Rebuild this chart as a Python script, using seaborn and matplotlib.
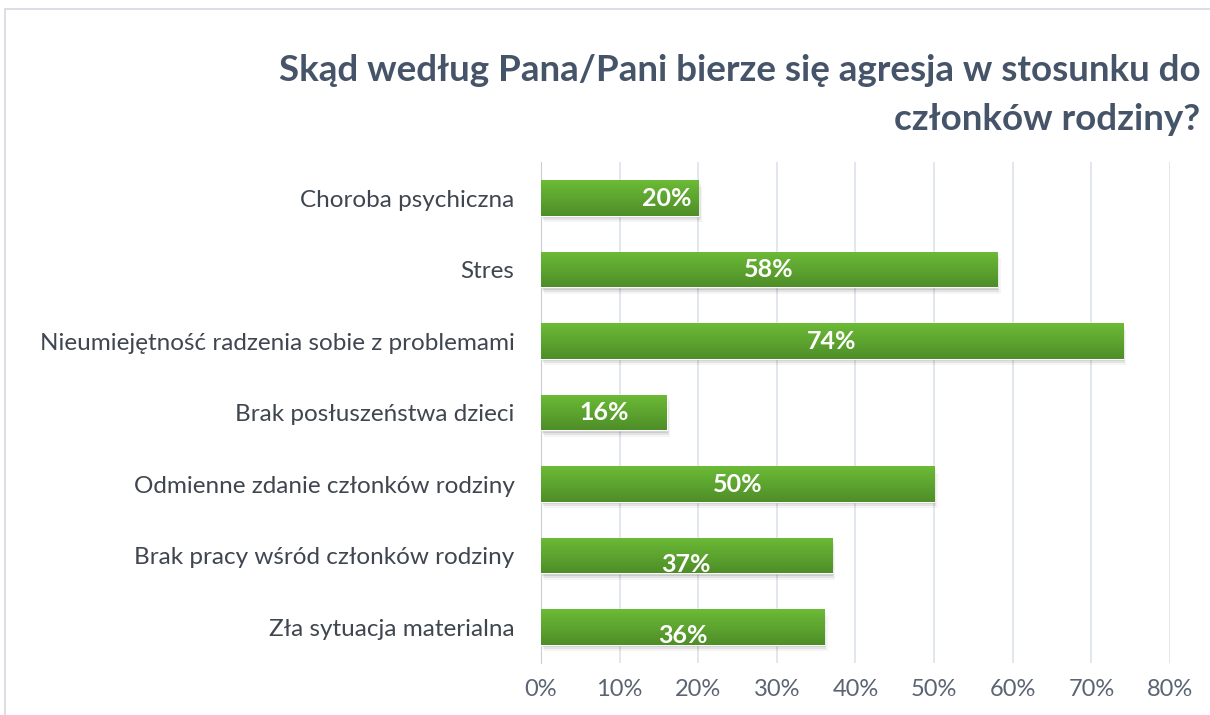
import numpy as np
import pandas as pd
import seaborn as sns
import matplotlib.pyplot as plt
from matplotlib.colors import LinearSegmentedColormap
from matplotlib.patches import Rectangle

categories = [
    'Choroba psychiczna',
    'Stres',
    'Nieumiejętność radzenia sobie z problemami',
    'Brak posłuszeństwa dzieci',
    'Odmienne zdanie członków rodziny',
    'Brak pracy wśród członków rodziny',
    'Zła sytuacja materialna',
]
values = [20, 58, 74, 16, 50, 37, 36]
labels = ['20%', '58%', '74%', '16%', '50%', '37%', '36%']
xticks = [0, 10, 20, 30, 40, 50, 60, 70, 80]

data = pd.DataFrame({'cat': categories, 'val': values})

sns.set_style('white')
plt.rcParams['font.family'] = ['Lato', 'DejaVu Sans']

fig = plt.figure(figsize=(12.1, 7.15), dpi=100)
ax = fig.add_axes([0.447, 0.073, 0.52, 0.70])

# thin outer frame like the chart area border
fig.patches.append(Rectangle((0.004, -0.01), 1.1, 0.997, transform=fig.transFigure,
                             fill=False, edgecolor='#d4d8df', linewidth=1.2))

sns.barplot(data=data, x='val', y='cat', orient='h', color='#5ea32f',
            width=0.5, errorbar=None, ax=ax, zorder=3)

ax.set_xticks(xticks)
ax.set_xticklabels([f'{t}%' for t in xticks])
ax.xaxis.grid(True, color='#dde2ea', linewidth=1.2, zorder=0)
ax.set_axisbelow(True)
for s in ['top', 'right', 'bottom']:
    ax.spines[s].set_visible(False)
ax.spines['left'].set_color('#c8ccd3')
ax.set_xlabel('')
ax.set_ylabel('')

ax.tick_params(axis='x', length=0, pad=12, labelsize=17, labelcolor='#5b6472')
ax.tick_params(axis='y', length=0, pad=19, labelsize=17.5, labelcolor='#3f4650')
ax.set_yticks(np.arange(-0.5, len(categories)), minor=True)
ax.tick_params(axis='y', which='minor', length=11, color='#c8ccd3', width=1)

# gradient fill + soft shadow on the seaborn bars
grad = LinearSegmentedColormap.from_list('g', ['#6cbb37', '#4e8e28'])
bars = list(ax.patches)
for bar in bars:
    x0, y0 = bar.get_x(), bar.get_y()
    w, h = bar.get_width(), bar.get_height()
    for k, a in enumerate([0.10, 0.07, 0.04]):
        sh = Rectangle((x0 + 0.15 + 0.15 * k, y0 + 0.03 + 0.03 * k), w, h,
                       facecolor='#000000', alpha=a, edgecolor='none', zorder=2)
        ax.add_patch(sh)
    img = ax.imshow(np.linspace(0, 1, 50).reshape(-1, 1), cmap=grad, aspect='auto',
                    extent=[x0, x0 + w, y0 + h, y0], zorder=3.5, interpolation='bicubic')
    img.set_clip_path(bar)
ax.set_xlim(0, 80)
ax.set_ylim(len(categories) - 0.5, -0.5)

for i, (bar, lab) in enumerate(zip(bars, labels)):
    cy = bar.get_y() + bar.get_height() / 2
    if i == 0:
        ax.text(bar.get_width() - 0.9, cy, lab, ha='right', va='center', color='white',
                fontsize=18, fontweight='bold', zorder=5)
    else:
        dy = 0.12 if i >= 5 else 0
        ax.text(bar.get_width() / 2, cy + dy, lab, ha='center', va='center', color='white',
                fontsize=18, fontweight='bold', zorder=5)

fig.text(0.992, 0.867, 'Skąd według Pana/Pani bierze się agresja w stosunku do\nczłonków rodziny?',
         ha='right', va='center', fontsize=26.5, fontweight='bold', color='#46546a',
         linespacing=1.6)

fig.savefig('out.png', dpi=100)
